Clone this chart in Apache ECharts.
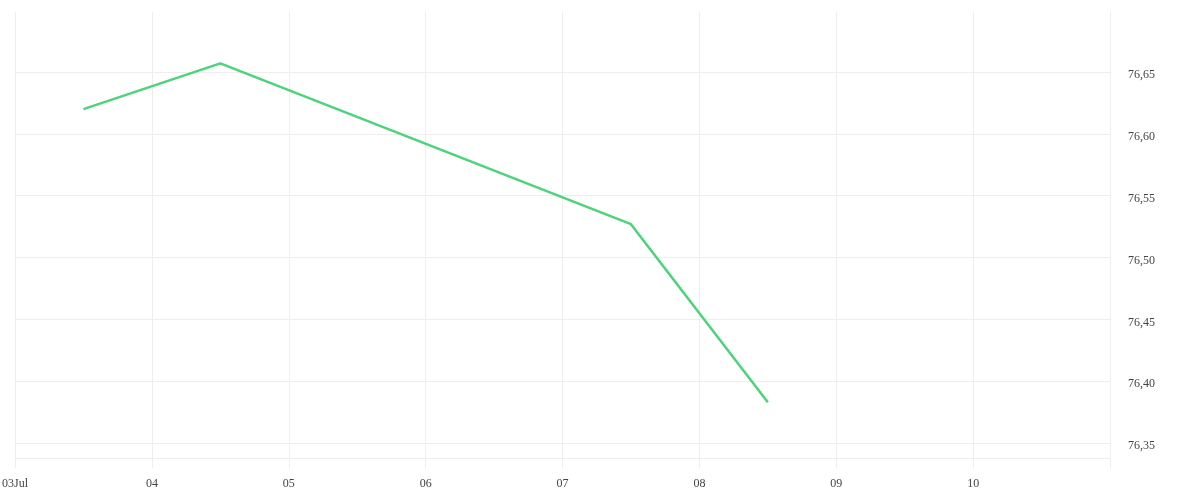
<!DOCTYPE html>
<html>
<head>
<meta charset="utf-8">
<script src="https://cdn.jsdelivr.net/npm/echarts@6/dist/echarts.min.js"></script>
<style>html,body{margin:0;padding:0;background:#fff;}#c{width:1200px;height:500px;}</style>
</head>
<body>
<div id="c"></div>
<script>
// x positions in days of July (noon of each day)
var dayPositions = [3.5, 4.5, 7.5, 8.5];
var values = [76.620, 76.657, 76.527, 76.383];
var xMin = 3, xMax = 11;
var yMin = 76.338, yMax = 76.6985;

var chart = echarts.init(document.getElementById('c'));
var fontFamily = '"Liberation Serif", serif';
chart.setOption({
  animation: false,
  grid: { left: 15, right: 90, top: 12, bottom: 42, containLabel: false, outerBoundsMode: 'none' },
  xAxis: {
    type: 'value',
    min: xMin, max: xMax, interval: 1,
    axisLine: { show: true, lineStyle: { color: '#eeeeee', width: 1 } },
    axisTick: { show: true, length: 10, lineStyle: { color: '#eeeeee' } },
    splitLine: { show: true, lineStyle: { color: '#eeeeee' } },
    axisLabel: {
      margin: 20, color: '#444', fontSize: 12, fontFamily: fontFamily,
      formatter: function (v) {
        if (v === xMax) return '';
        var s = (v < 10 ? '0' : '') + v;
        return v === xMin ? s + 'Jul' : s;
      }
    }
  },
  yAxis: {
    type: 'value', position: 'right',
    min: yMin, max: yMax, splitNumber: 7,
    axisLine: { show: false },
    axisTick: { show: false },
    splitLine: { show: true, showMaxLine: false, showMinLine: false, lineStyle: { color: '#eeeeee' } },
    axisLabel: {
      margin: 18, color: '#444', fontSize: 12, fontFamily: fontFamily,
      verticalAlign: 'top', lineHeight: 6,
      showMinLabel: false, showMaxLabel: false,
      formatter: function (v) {
        var r = Math.round(v * 100) / 100;
        if (Math.abs(r - v) > 1e-6) return '';
        return r.toFixed(2).replace('.', ',');
      }
    }
  },
  series: [{
    type: 'line',
    data: dayPositions.map(function (d, i) { return [d, values[i]]; }),
    showSymbol: false,
    lineStyle: { color: '#4cd47a', width: 2.5 },
    itemStyle: { color: '#4cd47a' }
  }]
});
</script>
</body>
</html>
